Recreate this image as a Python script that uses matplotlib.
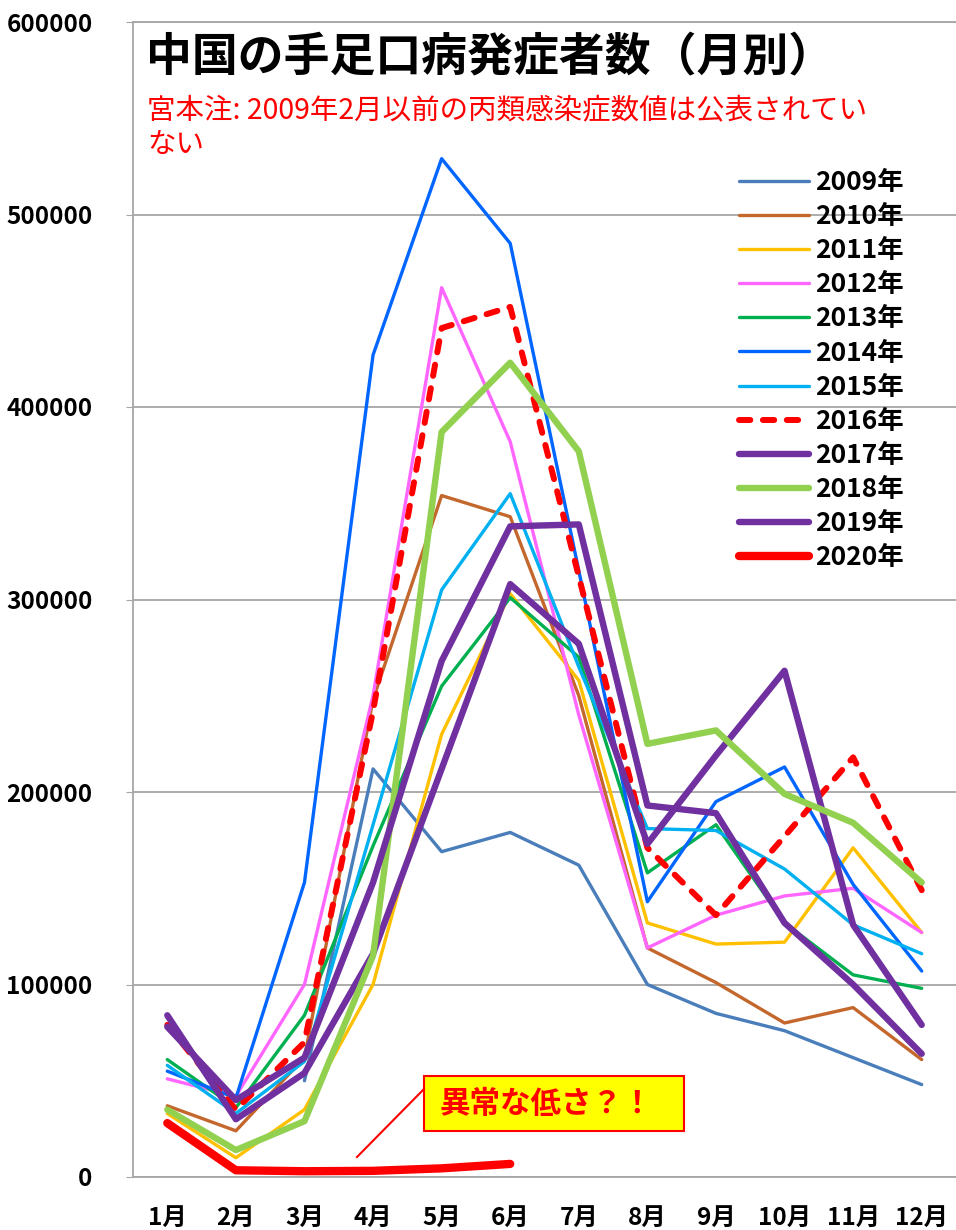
import numpy as np
import matplotlib
matplotlib.use("Agg")
import matplotlib.pyplot as plt
from matplotlib.patches import Rectangle
from matplotlib.lines import Line2D

plt.rcParams['font.family'] = ['Noto Sans CJK JP', 'DejaVu Sans']
plt.rcParams['font.weight'] = 'bold'

months = ['1月', '2月', '3月', '4月', '5月', '6月', '7月', '8月', '9月', '10月', '11月', '12月']
nan = np.nan
y2009 = [nan, nan, 50000, 212000, 169000, 179000, 162000, 100000, 85000, 76000, 62000, 48000]
y2010 = [37000, 24000, 62000, 248000, 354000, 343000, 250000, 119000, 101000, 80000, 88000, 61000]
y2011 = [33000, 10000, 35000, 100000, 230000, 303000, 258000, 132000, 121000, 122000, 171000, 127000]
y2012 = [51000, 42000, 100000, 250000, 462000, 382000, 240000, 119000, 136000, 146000, 150000, 127000]
y2013 = [61000, 36000, 84000, 172000, 255000, 301000, 270000, 158000, 183000, 132000, 105000, 98000]
y2014 = [55000, 41000, 153000, 427000, 529000, 485000, 315000, 143000, 195000, 213000, 152000, 107000]
y2015 = [58000, 33000, 60000, 183000, 305000, 355000, 265000, 181000, 180000, 160000, 131000, 116000]
y2016 = [79000, 35000, 70000, 242000, 441000, 452000, 312000, 171000, 136000, 177000, 218000, 149000]
y2017 = [84000, 30000, 54000, 116000, 212000, 308000, 277000, 173000, 219000, 263000, 131000, 79000]
y2018 = [35000, 14000, 29000, 115000, 387000, 423000, 377000, 225000, 232000, 199000, 184000, 153000]
y2019 = [78000, 40000, 62000, 153000, 268000, 338000, 339000, 193000, 189000, 132000, 100000, 64000]
y2020 = [28000, 3500, 3000, 3200, 4500, 6800]

series_names = ['2009年', '2010年', '2011年', '2012年', '2013年', '2014年', '2015年',
                '2016年', '2017年', '2018年', '2019年', '2020年']
series_vals = [y2009, y2010, y2011, y2012, y2013, y2014, y2015, y2016, y2017, y2018, y2019, y2020]
colors = ['#4A7EBB', '#C4672C', '#FFC000', '#FF66FF', '#00B050', '#0066FF', '#00B0F0',
          '#FF0000', '#7030A0', '#92D050', '#7030A0', '#FF0000']
widths = [2.4, 2.4, 2.4, 2.4, 2.4, 2.4, 2.4, 4.3, 4.6, 4.6, 4.6, 6.0]
styles = ['-'] * 7 + ['--'] + ['-'] * 4

W, H = 956, 1230
fig = plt.figure(figsize=(W / 100, H / 100), dpi=100)
L, R, T, B = 133, 956, 22, 1177
ax = fig.add_axes([L / W, 1 - B / H, (R - L) / W, (B - T) / H])

x = np.arange(len(months))
for name, vals, c, lw, ls in zip(series_names, series_vals, colors, widths, styles):
    xv = x[:len(vals)]
    kw = dict(color=c, lw=lw, label=name, solid_joinstyle='round', solid_capstyle='round')
    if ls == '--':
        kw.update(dashes=(1.9, 2.1), dash_capstyle='round', dash_joinstyle='round')
    ax.plot(xv, vals, **kw)

ax.set_xlim(-0.5, 11.5)
ax.set_ylim(0, 600000)
ax.set_yticks(np.arange(0, 600001, 100000))
ax.set_yticklabels([str(v) for v in range(0, 600001, 100000)])
ax.set_xticks(x)
ax.set_xticklabels(months)
ax.grid(axis='y', color='#A6A6A6', lw=1.3)
ax.set_axisbelow(True)
for s in ax.spines.values():
    s.set_color('#A6A6A6')
    s.set_linewidth(1.3)
ax.spines['right'].set_visible(False)
ax.tick_params(axis='y', length=5, color='#A6A6A6', pad=24, labelsize=17.5)
ax.tick_params(axis='x', length=0, pad=21, labelsize=17.5)

def fx(px):
    return px / W

def fy(py):
    return 1 - py / H

fig.text(fx(146), fy(57), '中国の手足口病発症者数（月別）', fontsize=33, fontweight='bold',
         color='black', ha='left', va='center')
fig.text(fx(147), fy(110), '宮本注: 2009年2月以前の丙類感染症数値は公表されてい', fontsize=20.5,
         fontweight='normal', color='#FF0000', ha='left', va='center')
fig.text(fx(147), fy(145), 'ない', fontsize=20.5, fontweight='normal', color='#FF0000',
         ha='left', va='center')

# annotation box
ax_w, ax_h = R - L, B - T
def axx(px):
    return (px - L) / ax_w
def axy(py):
    return (B - py) / ax_h

ax.add_patch(Rectangle((axx(424), axy(1131)), axx(684) - axx(424), axy(1076) - axy(1131),
                       transform=ax.transAxes, facecolor='#FFFF00', edgecolor='#FF0000',
                       lw=1.5, zorder=5))
ax.text(axx(546), axy(1104), '異常な低さ？！', transform=ax.transAxes, fontsize=22,
        fontweight='bold', color='#FF0000', ha='center', va='center', zorder=6)
ax.add_line(Line2D([axx(357), axx(424)], [axy(1157), axy(1089)], transform=ax.transAxes,
                   color='#FF0000', lw=1.5, zorder=5))

leg = ax.legend(loc='upper left', bbox_to_anchor=(fx(739), fy(169)), bbox_transform=fig.transFigure,
                frameon=False, borderpad=0, borderaxespad=0, handlelength=2.65,
                handletextpad=0.23, labelspacing=0.27, fontsize=19)
for t in leg.get_texts():
    t.set_fontweight('bold')

fig.savefig('out.png', dpi=100)
